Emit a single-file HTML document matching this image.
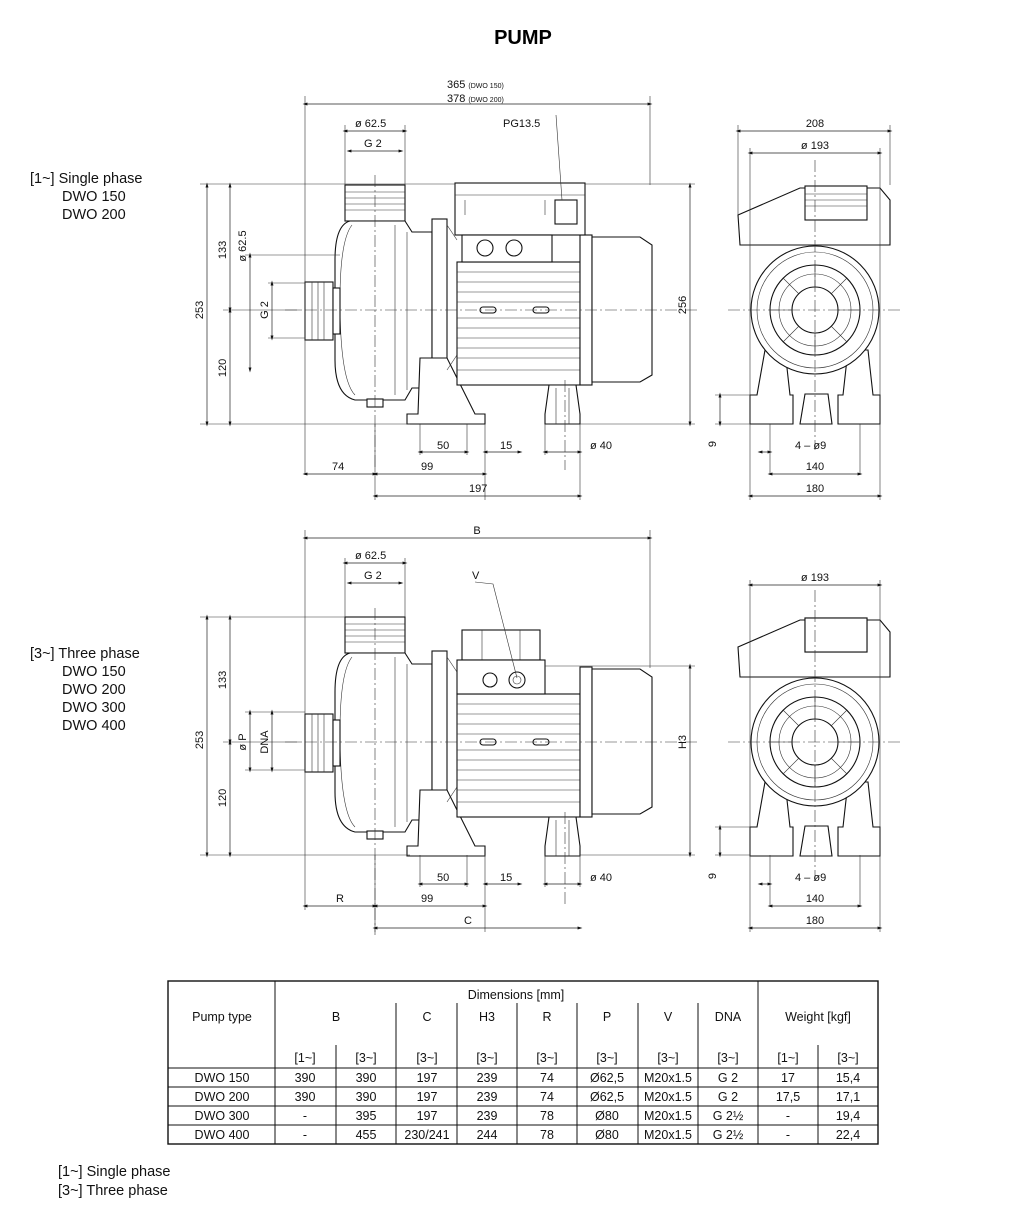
<!DOCTYPE html>
<html><head><meta charset="utf-8"><style>
body{margin:0;background:#fff;}
svg{display:block;font-family:"Liberation Sans",sans-serif;}
.o{fill:#fff;stroke:#111;stroke-width:1.1}
.n{fill:none;stroke:#111;stroke-width:1.1}
.t{fill:none;stroke:#333;stroke-width:.6}
.c{fill:none;stroke:#333;stroke-width:.6;stroke-dasharray:12 3 2 3}
.d{fill:none;stroke:#222;stroke-width:.7;marker-start:url(#a);marker-end:url(#a)}
.dt{font-size:11px;fill:#111}
.tb{font-size:12.5px;fill:#111;text-anchor:middle}
</style></head><body>
<svg width="1024" height="1223" viewBox="0 0 1024 1223">
<defs>
<marker id="a" viewBox="0 0 10 10" refX="5" refY="5" markerWidth="7" markerHeight="7" orient="auto-start-reverse"><path d="M0,5 L10,2 L10,8z" fill="#111" transform="rotate(180 5 5)"/></marker>
<g id="side">
 <rect class="o" x="345" y="185" width="60" height="36"/>
 <path class="t" d="M345 192H405M345 198H405M345 204H405M345 210H405"/>
 <path class="o" d="M350 221 H405 L412 232 H432 V388 H412 L405 400 H355 Q335 395 335 360 V260 Q335 225 350 221Z"/>
 <path class="t" d="M352 225 Q340 240 340 300 Q340 380 355 395 M395 225 V395 M407 232 V390"/>
 <rect class="o" x="367" y="399" width="16" height="8"/>
 <rect class="o" x="305" y="282" width="28" height="58"/>
 <path class="t" d="M312 282V340M318 282V340M324 282V340"/>
 <rect class="o" x="333" y="288" width="7" height="46"/>
 <rect class="o" x="432" y="219" width="15" height="176"/>
 <path class="o" d="M420 358 L447 358 L475 414 H485 V424 H407 V414 H418Z"/>
 <path class="t" d="M447 225 L457 240 M447 370 L457 355"/>
 <rect class="o" x="457" y="262" width="123" height="123"/>
 <path class="t" d="M457 272H580M457 282H580M457 292H580M457 302H580M457 318H580M457 328H580M457 338H580M457 348H580M457 358H580M457 370H580"/>
 <rect class="o" x="480" y="307" width="16" height="6" rx="3"/>
 <rect class="o" x="533" y="307" width="16" height="6" rx="3"/>
 <rect class="o" x="580" y="235" width="12" height="150"/>
 <path class="o" d="M592 237 H640 L652 245 V375 L640 382 H592Z"/>
 <path class="o" d="M549 385 H576 L580 414 V424 H545 V414Z"/>
 <path class="t" d="M556 388V424M569 388V424"/>
</g>
<g id="end">
 <path class="o" d="M738 215 L800 188 H880 L890 200 V245 H740 Z"/>
 <rect class="o" x="805" y="186" width="62" height="34"/>
 <path class="t" d="M805 194H867M805 200H867M805 206H867"/>
 <path class="o" d="M757 395 L765 350 H785 L790 395 H793 V424 H750 V395Z"/>
 <path class="o" d="M873 395 L868 350 H848 L843 395 H838 V424 H880 V395Z"/>
 <circle class="o" cx="815" cy="310" r="64"/>
 <circle class="t" cx="815" cy="310" r="58"/>
 <circle class="n" cx="815" cy="310" r="45"/>
 <circle class="t" cx="815" cy="310" r="36"/>
 <circle class="n" cx="815" cy="310" r="23"/>
 <path class="t" d="M815 265V287M815 333V355M770 310H792M838 310H860M783 278L799 294M847 278L831 294M783 342L799 326M847 342L831 326"/>
 <path class="o" d="M805 394 H828 L832 424 H800Z"/>
</g>
</defs>

<text x="523" y="44" font-size="20" font-weight="bold" text-anchor="middle">PUMP</text>

<g font-size="14.5" fill="#111">
<text x="30" y="183">[1~] Single phase</text><text x="62" y="201">DWO 150</text><text x="62" y="219">DWO 200</text>
<text x="30" y="658">[3~] Three phase</text><text x="62" y="676">DWO 150</text><text x="62" y="694">DWO 200</text><text x="62" y="712">DWO 300</text><text x="62" y="730">DWO 400</text>
<text x="58" y="1176">[1~] Single phase</text><text x="58" y="1195">[3~] Three phase</text>
</g>

<!-- TOP VIEW -->
<use href="#side"/>
<rect class="o" x="455" y="183" width="130" height="52"/>
<path class="t" d="M455 195H585M465 200V215M545 200V215"/>
<rect class="o" x="555" y="200" width="22" height="24"/>
<rect class="o" x="462" y="235" width="90" height="27"/>
<circle class="o" cx="485" cy="248" r="8"/><circle class="o" cx="514" cy="248" r="8"/>
<path class="c" d="M285 310H700M375 175V470M565 380V470"/>
<use href="#end"/>
<path class="c" d="M728 310H900M815 160V450"/>
<!-- top dims -->
<path class="t" d="M305 96V475M650 96V185M345 125V185M405 125V185M556 115L562 200"/>
<path class="d" d="M305 104H650"/>
<text class="dt" x="447" y="88">365 <tspan font-size="7">(DWO 150)</tspan></text>
<text class="dt" x="447" y="102">378 <tspan font-size="7">(DWO 200)</tspan></text>
<path class="d" d="M345 131H405"/><text class="dt" x="355" y="127">ø 62.5</text>
<path class="d" d="M349 151H401"/><text class="dt" x="364" y="147">G 2</text>
<text class="dt" x="503" y="127">PG13.5</text>
<path class="t" d="M200 184H455M200 424H410M223 310H300M245 255H340M268 283H305M268 338H305M585 184H695M580 424H695"/>
<path class="d" d="M207 185V424"/><text class="dt" transform="translate(203 310) rotate(-90)" text-anchor="middle">253</text>
<path class="d" d="M230 185V310"/><text class="dt" transform="translate(226 250) rotate(-90)" text-anchor="middle">133</text>
<path class="d" d="M230 310V424"/><text class="dt" transform="translate(226 368) rotate(-90)" text-anchor="middle">120</text>
<path class="d" d="M250 255V370"/><text class="dt" transform="translate(246 246) rotate(-90)" text-anchor="middle">ø 62.5</text>
<path class="d" d="M272 283V338"/><text class="dt" transform="translate(268 310) rotate(-90)" text-anchor="middle">G 2</text>
<path class="d" d="M690 185V424"/><text class="dt" transform="translate(686 305) rotate(-90)" text-anchor="middle">256</text>
<path class="t" d="M420 424V455M467 424V455M485 424V500M545 424V455M580 424V500M375 424V500"/>
<path class="d" d="M420 452H467"/><text class="dt" x="437" y="449">50</text>
<path class="d" d="M485 452H520"/><text class="dt" x="500" y="449">15</text>
<path class="d" d="M545 452H580"/><text class="dt" x="590" y="449">ø 40</text>
<path class="d" d="M305 474H375"/><text class="dt" x="332" y="470">74</text>
<path class="d" d="M375 474H485"/><text class="dt" x="421" y="470">99</text>
<path class="d" d="M375 496H580"/><text class="dt" x="469" y="492">197</text>
<!-- right view dims -->
<path class="t" d="M738 125V215M890 125V185M750 148V424M880 148V500M770 424V475M860 424V475M750 424V500M715 395H750M715 424H750"/>
<path class="d" d="M738 131H890"/><text class="dt" x="815" y="127" text-anchor="middle">208</text>
<path class="d" d="M750 153H880"/><text class="dt" x="815" y="149" text-anchor="middle">ø 193</text>
<path class="d" d="M720 395V424"/><text class="dt" transform="translate(716 444) rotate(-90)" text-anchor="middle">9</text>
<path class="d" d="M760 452H770"/><text class="dt" x="795" y="449">4 – ø9</text>
<path class="d" d="M770 474H860"/><text class="dt" x="815" y="470" text-anchor="middle">140</text>
<path class="d" d="M750 496H880"/><text class="dt" x="815" y="492" text-anchor="middle">180</text>

<!-- BOTTOM VIEW -->
<g transform="translate(0 432)"><use href="#side"/>
<rect class="o" x="462" y="198" width="78" height="30"/>
<path class="t" d="M482 198V228M520 198V228"/>
<rect class="o" x="457" y="228" width="88" height="34"/>
<circle class="o" cx="490" cy="248" r="7"/><circle class="o" cx="517" cy="248" r="8"/><circle class="t" cx="517" cy="248" r="4"/>
<use href="#end"/>
<rect class="o" x="805" y="186" width="62" height="34"/>
</g>
<path class="c" d="M285 742H700M375 608V935M565 812V905M728 742H900M815 590V880"/>
<path class="t" d="M305 530V910M650 530V668M345 558V617M405 558V617M475 582L493 584L517 678"/>
<path class="d" d="M305 538H650"/><text class="dt" x="477" y="534" text-anchor="middle">B</text>
<path class="d" d="M345 563H405"/><text class="dt" x="355" y="559">ø 62.5</text>
<path class="d" d="M349 583H401"/><text class="dt" x="364" y="579">G 2</text>
<text class="dt" x="472" y="579">V</text>
<path class="t" d="M200 617H345M200 855H410M223 742H300M245 712H305M245 770H305M545 666H695M580 855H695"/>
<path class="d" d="M207 617V855"/><text class="dt" transform="translate(203 740) rotate(-90)" text-anchor="middle">253</text>
<path class="d" d="M230 617V742"/><text class="dt" transform="translate(226 680) rotate(-90)" text-anchor="middle">133</text>
<path class="d" d="M230 742V855"/><text class="dt" transform="translate(226 798) rotate(-90)" text-anchor="middle">120</text>
<path class="d" d="M250 712V770"/><text class="dt" transform="translate(246 742) rotate(-90)" text-anchor="middle">ø P</text>
<path class="d" d="M272 712V770"/><text class="dt" transform="translate(268 742) rotate(-90)" text-anchor="middle">DNA</text>
<path class="d" d="M690 666V855"/><text class="dt" transform="translate(686 742) rotate(-90)" text-anchor="middle">H3</text>
<path class="t" d="M420 855V887M467 855V887M485 855V932M545 855V887M580 855V887M375 855V932"/>
<path class="d" d="M420 884H467"/><text class="dt" x="437" y="881">50</text>
<path class="d" d="M485 884H520"/><text class="dt" x="500" y="881">15</text>
<path class="d" d="M545 884H580"/><text class="dt" x="590" y="881">ø 40</text>
<path class="d" d="M305 906H375"/><text class="dt" x="336" y="902">R</text>
<path class="d" d="M375 906H485"/><text class="dt" x="421" y="902">99</text>
<path class="d" d="M375 928H580"/><text class="dt" x="464" y="924">C</text>
<path class="t" d="M750 580V855M880 580V932M770 855V907M860 855V907M750 855V932M715 827H750M715 855H750"/>
<path class="d" d="M750 585H880"/><text class="dt" x="815" y="581" text-anchor="middle">ø 193</text>
<path class="d" d="M720 827V855"/><text class="dt" transform="translate(716 876) rotate(-90)" text-anchor="middle">9</text>
<path class="d" d="M760 884H770"/><text class="dt" x="795" y="881">4 – ø9</text>
<path class="d" d="M770 906H860"/><text class="dt" x="815" y="902" text-anchor="middle">140</text>
<path class="d" d="M750 928H880"/><text class="dt" x="815" y="924" text-anchor="middle">180</text>

<!-- TABLE -->
<g stroke="#111" fill="none">
<rect x="168" y="981" width="710" height="163" stroke-width="1.4"/>
<path stroke-width="1" d="M168 1068H878M168 1087H878M168 1106H878M168 1125H878M275 981V1144M758 981V1144M396 1003V1144M457 1003V1144M517 1003V1144M577 1003V1144M638 1003V1144M698 1003V1144M336 1045V1144M818 1045V1144"/>
</g>
<g class="tb">
<text x="222" y="1021">Pump type</text>
<text x="516" y="999">Dimensions [mm]</text>
<text x="336" y="1021">B</text><text x="427" y="1021">C</text><text x="487" y="1021">H3</text><text x="547" y="1021">R</text><text x="607" y="1021">P</text><text x="668" y="1021">V</text><text x="728" y="1021">DNA</text><text x="818" y="1021">Weight [kgf]</text>
<text x="305" y="1062">[1~]</text><text x="366" y="1062">[3~]</text><text x="427" y="1062">[3~]</text><text x="487" y="1062">[3~]</text><text x="547" y="1062">[3~]</text><text x="607" y="1062">[3~]</text><text x="668" y="1062">[3~]</text><text x="728" y="1062">[3~]</text><text x="788" y="1062">[1~]</text><text x="848" y="1062">[3~]</text>
<text x="222" y="1082">DWO 150</text><text x="305" y="1082">390</text><text x="366" y="1082">390</text><text x="427" y="1082">197</text><text x="487" y="1082">239</text><text x="547" y="1082">74</text><text x="607" y="1082">Ø62,5</text><text x="668" y="1082">M20x1.5</text><text x="728" y="1082">G 2</text><text x="788" y="1082">17</text><text x="848" y="1082">15,4</text>
<text x="222" y="1101">DWO 200</text><text x="305" y="1101">390</text><text x="366" y="1101">390</text><text x="427" y="1101">197</text><text x="487" y="1101">239</text><text x="547" y="1101">74</text><text x="607" y="1101">Ø62,5</text><text x="668" y="1101">M20x1.5</text><text x="728" y="1101">G 2</text><text x="788" y="1101">17,5</text><text x="848" y="1101">17,1</text>
<text x="222" y="1120">DWO 300</text><text x="305" y="1120">-</text><text x="366" y="1120">395</text><text x="427" y="1120">197</text><text x="487" y="1120">239</text><text x="547" y="1120">78</text><text x="607" y="1120">Ø80</text><text x="668" y="1120">M20x1.5</text><text x="728" y="1120">G 2½</text><text x="788" y="1120">-</text><text x="848" y="1120">19,4</text>
<text x="222" y="1139">DWO 400</text><text x="305" y="1139">-</text><text x="366" y="1139">455</text><text x="427" y="1139">230/241</text><text x="487" y="1139">244</text><text x="547" y="1139">78</text><text x="607" y="1139">Ø80</text><text x="668" y="1139">M20x1.5</text><text x="728" y="1139">G 2½</text><text x="788" y="1139">-</text><text x="848" y="1139">22,4</text>
</g>
</svg>
</body></html>
